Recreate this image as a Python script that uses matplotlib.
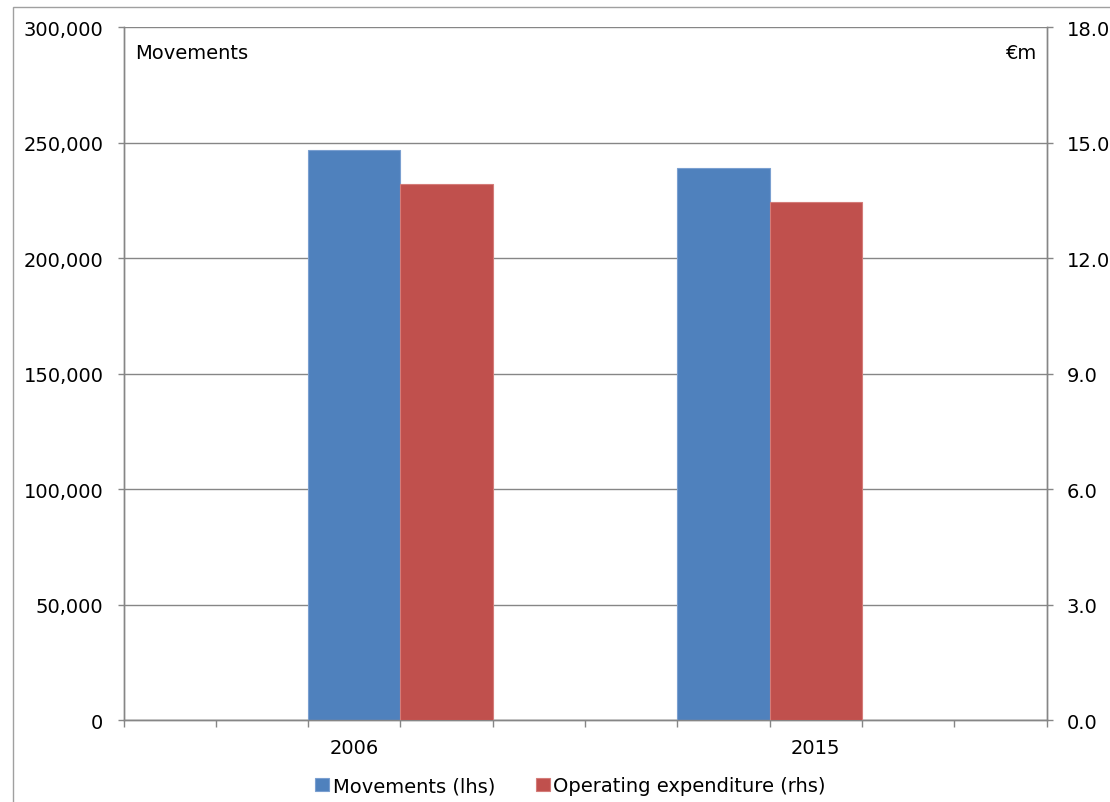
import matplotlib.pyplot as plt
from matplotlib.patches import Rectangle
from matplotlib.ticker import FuncFormatter, FixedLocator

# data
years = ['2006', '2015']
movements = [247000, 239000]          # lhs, number of movements
opex = [13.92, 13.45]                 # rhs, operating expenditure in €m

blue = '#4F81BD'
red = '#C0504D'
grey = '#868686'

plt.rcParams['font.family'] = ['DejaVu Sans']
plt.rcParams['font.size'] = 14

fig = plt.figure(figsize=(11.1, 8.03), dpi=100)

# chart area border (runs off the right and bottom edges)
fig.patches.append(Rectangle((13 / 1110, -0.05), 1.2, 0.05 + (803 - 8) / 803,
                             transform=fig.transFigure, fill=False,
                             edgecolor='#a0a0a0', linewidth=1.0))

ax = fig.add_axes([0.1113, 0.1021, 0.8315, 0.8626])
ax2 = ax.twinx()

# each category spans 5 slots; the bar pairs sit pulled in towards the middle
group = 5
bar_w = 1.0
pair_centres = [3, 7]
for i, yr in enumerate(years):
    c = pair_centres[i]
    ax.bar(c - bar_w / 2, movements[i], width=bar_w, color=blue,
           edgecolor='#7a9fd0', linewidth=0.8, zorder=3,
           label='Movements (lhs)' if i == 0 else None)
    ax2.bar(c + bar_w / 2, opex[i], width=bar_w, color=red,
            edgecolor='#d47c79', linewidth=0.8, zorder=3,
            label='Operating expenditure (rhs)' if i == 0 else None)

ax.set_xlim(0, group * len(years))
ax.set_ylim(0, 300000)
ax2.set_ylim(0, 18)
ax.set_yticks(range(0, 300001, 50000))
ax2.set_yticks([0, 3, 6, 9, 12, 15, 18])
ax.yaxis.set_major_formatter(FuncFormatter(lambda v, p: f'{v:,.0f}'))
ax2.yaxis.set_major_formatter(FuncFormatter(lambda v, p: f'{v:.1f}'))

ax.grid(axis='y', color=grey, linewidth=1.0, zorder=0)
ax.set_axisbelow(True)

# tick marks between slots, labels at category centres
ax.xaxis.set_major_locator(FixedLocator(range(0, group * len(years) + 1)))
ax.xaxis.set_minor_locator(FixedLocator([i * group + 2.5 for i in range(len(years))]))
ax.xaxis.set_major_formatter(FuncFormatter(lambda v, p: ''))
ax.xaxis.set_minor_formatter(FuncFormatter(lambda v, p: years[int(v // group)]))
ax.tick_params(axis='x', which='major', length=5, color=grey, width=1.0)
ax.tick_params(axis='x', which='minor', length=0, pad=13)
ax.tick_params(axis='y', length=4.5, color=grey, width=1.0, pad=10)
ax2.tick_params(axis='y', length=4.5, color=grey, width=1.0, pad=10)

for a in (ax, ax2):
    for side in ('left', 'right', 'bottom'):
        a.spines[side].set_color(grey)
        a.spines[side].set_linewidth(1.0)
    a.spines['top'].set_visible(False)

ax.text(0.013, 0.977, 'Movements', transform=ax.transAxes, ha='left', va='top')
ax.text(0.99, 0.977, '€m', transform=ax.transAxes, ha='right', va='top')

h1, l1 = ax.get_legend_handles_labels()
h2, l2 = ax2.get_legend_handles_labels()
fig.legend(h1 + h2, l1 + l2, loc='center', bbox_to_anchor=(0.514, 0.02),
           ncol=2, frameon=False, handlelength=0.7, handleheight=0.7,
           handletextpad=0.2, columnspacing=2.1)

fig.savefig('out.png', dpi=100)
